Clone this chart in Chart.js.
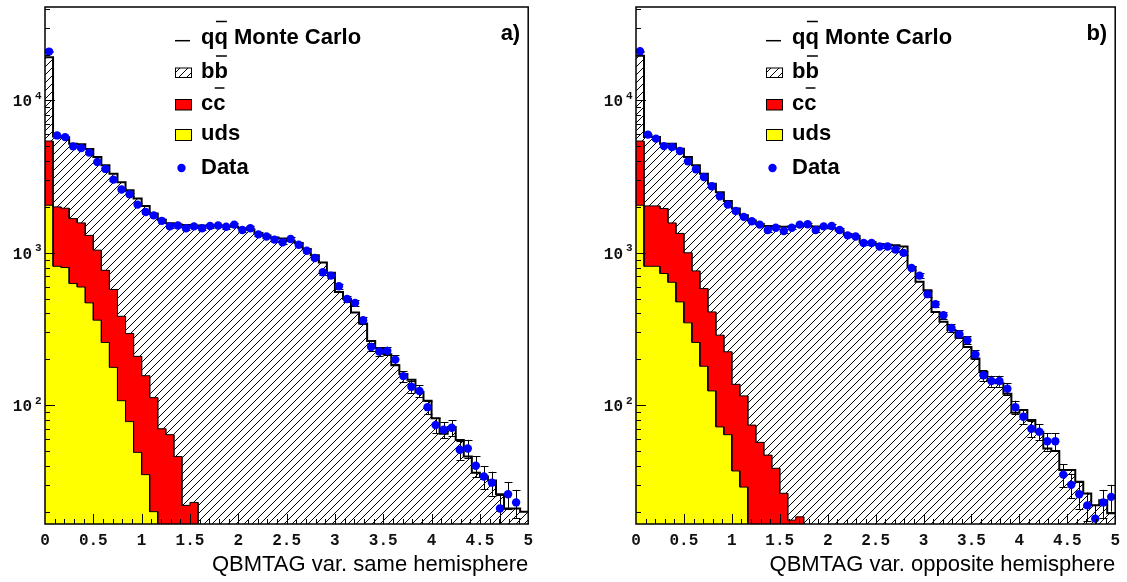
<!DOCTYPE html>
<html>
<head>
<meta charset="utf-8">
<script src="https://cdn.jsdelivr.net/npm/chart.js@4.4.1/dist/chart.umd.min.js"></script>
<style>
html, body { margin: 0; padding: 0; background: #fff; }
#wrap { position: relative; width: 1127px; height: 582px; }
canvas { position: absolute; top: 0; }
#cA { left: 0; }
#cB { left: 591px; }
</style>
</head>
<body>
<div id="wrap">
<canvas id="cA" width="540" height="582"></canvas>
<canvas id="cB" width="536" height="582"></canvas>
</div>
<script>
// 60 bins of QBMTAG from 0 to 5
const binWidth = 5 / 60;
const yMin = 16.6, yMax = 41000;
const yDecades = [2, 3, 4];

// a) same hemisphere
const udsA = [2050, 815, 800, 628, 596, 469, 361, 258, 177, 107, 78, 49, 35, 20,
  0, 0, 0, 0, 0, 0, 0, 0, 0, 0, 0, 0, 0, 0, 0, 0, 0, 0, 0, 0, 0, 0, 0, 0, 0, 0,
  0, 0, 0, 0, 0, 0, 0, 0, 0, 0, 0, 0, 0, 0, 0, 0, 0, 0, 0, 0];
const ccA = [3360, 1185, 1160, 1047, 974, 831, 679, 509, 397, 276, 217, 160, 121, 92, 70, 64, 46, 22, 23,
  0, 0, 0, 0, 0, 0, 0, 0, 0, 0, 0, 0, 0, 0, 0, 0, 0, 0, 0, 0, 0,
  0, 0, 0, 0, 0, 0, 0, 0, 0, 0, 0, 0, 0, 0, 0, 0, 0, 0, 0, 0];
const bbA = [13790, 3800, 3740, 3525, 3580, 3500, 3210, 2983, 2726, 2517, 2275, 2061, 1874, 1698, 1580, 1496, 1484, 1498, 1487,
  1510, 1500, 1500, 1500, 1480, 1450, 1420, 1350, 1300, 1260, 1240, 1200, 1160, 1060, 965, 863, 738, 553, 500, 405, 343,
  264, 236, 216, 183, 160, 147, 122, 107, 82, 65, 72, 59, 46, 36, 34, 32, 26, 21, 21, 20];
const dataA = [20900, 5890, 5740, 4990, 4860, 4540, 3940, 3550, 3020, 2600,
  2420, 2070, 1850, 1760, 1620, 1490, 1510, 1450, 1490, 1450,
  1500, 1510, 1480, 1530, 1410, 1450, 1320, 1280, 1220, 1170,
  1230, 1130, 1030, 925, 745, 708, 603, 497, 469, 361,
  241, 225, 227, 199, 155, 132, 124, 97, 74, 69,
  71, 51, 52, 40, 34, 31, 21, 26, 23, null];

// b) opposite hemisphere
const udsB = [2050, 815, 815, 731, 640, 476, 347, 258, 180, 124, 72, 64, 37, 29,
  0, 0, 0, 0, 0, 0, 0, 0, 0, 0, 0, 0, 0, 0, 0, 0, 0, 0, 0, 0, 0, 0, 0, 0, 0, 0,
  0, 0, 0, 0, 0, 0, 0, 0, 0, 0, 0, 0, 0, 0, 0, 0, 0, 0, 0, 0];
const ccB = [3360, 1215, 1215, 1219, 930, 864, 653, 502, 402, 285, 216, 160, 100, 86, 74, 57, 47, 38.5, 26.4, 17.6, 18.5,
  0, 0, 0, 0, 0, 0, 0, 0, 0, 0, 0, 0, 0, 0, 0, 0, 0, 0, 0,
  0, 0, 0, 0, 0, 0, 0, 0, 0, 0, 0, 0, 0, 0, 0, 0, 0, 0, 0, 0];
const bbB = [14190, 3720, 3720, 3250, 3630, 3480, 3250, 2990, 2718, 2431, 2212, 1966, 1813, 1645, 1556, 1483, 1453, 1452, 1454, 1472, 1482,
  1500, 1490, 1470, 1450, 1400, 1330, 1280, 1180, 1160, 1140, 1130, 1120, 1100, 807, 645, 568, 409, 352, 311,
  278, 241, 202, 165, 146, 139, 119, 89, 93, 80, 67, 52, 50, 37.5, 37.5, 31.4, 26.3, 22, 23.8, 19.5];
const dataB = [21000, 5960, 5610, 5010, 4940, 4650, 3980, 3530, 3140, 2730,
  2350, 2070, 1880, 1720, 1610, 1530, 1410, 1460, 1390, 1460,
  1530, 1540, 1410, 1490, 1500, 1410, 1300, 1280, 1160, 1160,
  1100, 1100, 1050, 998, 795, 708, 535, 460, 389, 321,
  292, 267, 215, 157, 144, 144, 128, 97, 84, 70,
  67, 58, 58, 35, 30, 26, 22, 18, 23, 25];

const titleA = 'QBMTAG var. same hemisphere';
const titleB = 'QBMTAG var. opposite hemisphere';

const monoFont = '"Liberation Mono", "DejaVu Sans Mono", monospace';
const sansFont = '"Liberation Sans", Arial, sans-serif';

function makeHatch() {
  const c = document.createElement('canvas');
  c.width = 8; c.height = 8;
  const g = c.getContext('2d');
  g.strokeStyle = '#000';
  g.lineWidth = 1;
  g.beginPath();
  g.moveTo(0, 8); g.lineTo(8, 0);
  g.moveTo(-1, 1); g.lineTo(1, -1);
  g.moveTo(7, 9); g.lineTo(9, 7);
  g.stroke();
  return g.createPattern(c, 'repeat');
}
const hatch = makeHatch();

// running sum of the stacked components (uds, uds+cc, uds+cc+bb)
function stackUp(...parts) {
  return parts[0].map((_, i) => parts.reduce((s, p) => s + p[i], 0));
}
// histogram outline: two points per bin; empty bins sit below the log axis
function stepPoints(vals) {
  const pts = [];
  vals.forEach((v, i) => {
    const y = v > 0 ? v : 1;
    pts.push({x: i * binWidth, y: y}, {x: (i + 1) * binWidth, y: y});
  });
  return pts;
}
function centerPoints(vals) {
  const pts = [];
  vals.forEach((v, i) => { if (v !== null) pts.push({x: (i + 0.5) * binWidth, y: v}); });
  return pts;
}

const errorBars = {
  id: 'errorBars',
  beforeDatasetDraw(chart, args) {
    if (args.index !== 3) return;
    const {ctx, chartArea: a, scales: {y}} = chart;
    const ds = chart.data.datasets[3].data;
    ctx.save();
    ctx.beginPath();
    ctx.rect(a.left, a.top, a.right - a.left, a.bottom - a.top);
    ctx.clip();
    ctx.strokeStyle = '#000';
    ctx.lineWidth = 1;
    ctx.beginPath();
    args.meta.data.forEach((el, j) => {
      const v = ds[j].y;
      const e = Math.sqrt(v);
      const top = y.getPixelForValue(v + e);
      const bot = v - e > 0 ? y.getPixelForValue(v - e) : a.bottom + 5;
      const px = Math.round(el.x) + 0.5;
      ctx.moveTo(px, top); ctx.lineTo(px, bot);
      ctx.moveTo(px - 4, Math.round(top) + 0.5); ctx.lineTo(px + 4, Math.round(top) + 0.5);
      ctx.moveTo(px - 4, Math.round(bot) + 0.5); ctx.lineTo(px + 4, Math.round(bot) + 0.5);
    });
    ctx.stroke();
    ctx.restore();
  }
};

const axisMarks = {
  id: 'axisMarks',
  afterDraw(chart) {
    const {ctx, chartArea: a, scales: {x, y}} = chart;
    ctx.save();
    ctx.strokeStyle = '#000';
    ctx.lineWidth = 1;
    ctx.beginPath();
    for (let i = 1; i < 50; i++) {
      const px = Math.round(x.getPixelForValue(i / 10)) + 0.5;
      const len = i % 5 === 0 ? 10 : 5;
      ctx.moveTo(px, a.bottom); ctx.lineTo(px, a.bottom - len);
    }
    for (let k = 1; k <= 4; k++) {
      for (let m = 1; m <= 9; m++) {
        const v = m * Math.pow(10, k);
        if (v < y.min || v > y.max) continue;
        const py = Math.round(y.getPixelForValue(v)) + 0.5;
        ctx.moveTo(a.left, py); ctx.lineTo(a.left + (m === 1 ? 10 : 5), py);
      }
    }
    ctx.stroke();
    ctx.lineWidth = 1.5;
    ctx.strokeRect(a.left, a.top, a.right - a.left, a.bottom - a.top);

    ctx.fillStyle = '#111';
    ctx.textBaseline = 'alphabetic';
    yDecades.forEach(k => {
      const py = y.getPixelForValue(Math.pow(10, k));
      ctx.font = 'bold 16px ' + monoFont;
      ctx.textAlign = 'right';
      ctx.fillText('10', a.left - 13, py + 6);
      ctx.font = 'bold 11px ' + monoFont;
      ctx.textAlign = 'left';
      ctx.fillText(String(k), a.left - 10, py - 1.5);
    });
    ctx.restore();
  }
};

const histLegend = {
  id: 'histLegend',
  afterDraw(chart, args, opts) {
    const {ctx, chartArea: a} = chart;
    const sx = a.left + 130, tx = a.left + 156, t = a.top;
    ctx.save();
    ctx.font = 'bold 22px ' + sansFont;
    ctx.fillStyle = '#000';
    ctx.strokeStyle = '#000';
    ctx.textAlign = 'left';
    ctx.textBaseline = 'alphabetic';

    function barred(txt, base) {
      ctx.fillText(txt + (txt === 'q' ? 'q Monte Carlo' : txt), tx, base);
      const w = ctx.measureText(txt).width;
      ctx.lineWidth = 1.5;
      ctx.beginPath();
      ctx.moveTo(tx + w + 1.5, base - 22); ctx.lineTo(tx + 2 * w - 1, base - 22);
      ctx.stroke();
    }

    // q qbar Monte Carlo
    ctx.lineWidth = 1.5;
    ctx.beginPath();
    ctx.moveTo(sx, t + 33.7); ctx.lineTo(sx + 15, t + 33.7);
    ctx.stroke();
    barred('q', t + 36.5);

    // b bbar
    ctx.fillStyle = hatch;
    ctx.fillRect(sx, t + 61, 16, 9.5);
    ctx.lineWidth = 1;
    ctx.strokeRect(sx + 0.5, t + 61, 16, 9.5);
    ctx.fillStyle = '#000';
    barred('b', t + 71);

    // c cbar
    ctx.fillStyle = '#ff0000';
    ctx.fillRect(sx, t + 92.5, 16, 10.5);
    ctx.lineWidth = 1;
    ctx.strokeRect(sx + 0.5, t + 92.5, 16, 10.5);
    ctx.fillStyle = '#000';
    barred('c', t + 103);

    // uds
    ctx.fillStyle = '#ffff00';
    ctx.fillRect(sx, t + 122.5, 16, 11);
    ctx.lineWidth = 1;
    ctx.strokeRect(sx + 0.5, t + 122.5, 16, 11);
    ctx.fillStyle = '#000';
    ctx.fillText('uds', tx, t + 133);

    // Data
    ctx.fillStyle = '#0000ff';
    ctx.beginPath();
    ctx.arc(sx + 6.5, t + 161, 4.2, 0, Math.PI * 2);
    ctx.fill();
    ctx.fillStyle = '#000';
    ctx.fillText('Data', tx, t + 167);

    // panel tag
    ctx.textAlign = 'right';
    ctx.fillText(opts.tag, a.right - 8, t + 33);
    ctx.restore();
  }
};

function buildChart(id, uds, cc, bb, data, title, tag, padRight) {
  const ctx = document.getElementById(id).getContext('2d');
  const udsTop = stackUp(uds);
  const ccTop = stackUp(uds, cc);
  const total = stackUp(uds, cc, bb);
  return new Chart(ctx, {
    type: 'line',
    data: {
      datasets: [
        {label: 'uds', data: stepPoints(udsTop), pointRadius: 0,
         borderColor: '#000', borderWidth: 1, backgroundColor: '#ffff00', fill: 'start'},
        {label: 'cc', data: stepPoints(ccTop), pointRadius: 0,
         borderColor: '#000', borderWidth: 1, backgroundColor: '#ff0000', fill: '-1'},
        {label: 'bb', data: stepPoints(total), pointRadius: 0,
         borderColor: '#000', borderWidth: 2, backgroundColor: hatch, fill: '-1'},
        {label: 'Data', data: centerPoints(data), showLine: false,
         pointRadius: 4.2, pointBackgroundColor: '#0000ff', pointBorderWidth: 0, order: -1}
      ]
    },
    options: {
      responsive: false,
      animation: false,
      devicePixelRatio: 1,
      events: [],
      layout: {padding: {top: 7, right: padRight, left: 0, bottom: 0}},
      elements: {line: {tension: 0}},
      plugins: {
        legend: {display: false},
        tooltip: {enabled: false},
        filler: {drawTime: 'beforeDatasetsDraw'},
        histLegend: {tag: tag}
      },
      scales: {
        x: {
          type: 'linear', min: 0, max: 5,
          grid: {display: false, drawTicks: false},
          border: {display: false},
          ticks: {stepSize: 0.5, autoSkip: false, maxRotation: 0, padding: 7, color: '#111',
                  font: {family: monoFont, size: 16, weight: 'bold'},
                  callback: v => String(Math.round(v * 10) / 10)},
          title: {display: true, text: title, align: 'end', color: '#000',
                  font: {family: sansFont, size: 22}, padding: {top: 0, bottom: 4}},
          afterFit: s => { s.height = 58; }
        },
        y: {
          type: 'logarithmic', min: yMin, max: yMax,
          grid: {display: false, drawTicks: false},
          border: {display: false},
          ticks: {display: false},
          afterFit: s => { s.width = 45; }
        }
      }
    },
    plugins: [errorBars, axisMarks, histLegend]
  });
}

buildChart('cA', udsA, ccA, bbA, dataA, titleA, 'a)', 11);
buildChart('cB', udsB, ccB, bbB, dataB, titleB, 'b)', 7);
</script>
</body>
</html>
